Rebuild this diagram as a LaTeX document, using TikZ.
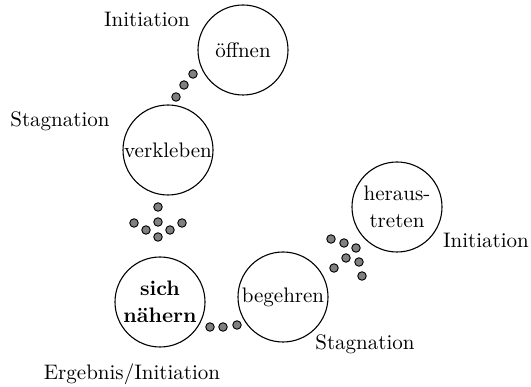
\documentclass[tikz,border=0pt]{standalone}
\usepackage{fontspec}
\setmainfont{lmroman10-regular.otf}[BoldFont=lmroman10-bold.otf]
\begin{document}
\begin{tikzpicture}[x=1pt,y=-1pt,
  phase/.style={circle,draw=black,line width=1.1pt,minimum size=90pt,inner sep=0pt,align=center,
    font=\fontsize{21}{27}\selectfont},
  lbl/.style={anchor=base,inner sep=0pt,font=\fontsize{21}{24}\selectfont},
  dot/.style={circle,draw=black,line width=0.9pt,fill=black!50,minimum size=8.5pt,inner sep=0pt}]
\useasboundingbox (0,0) rectangle (531,387);
% circles
\node[phase] (oeffnen) at (243,50) {öffnen};
\node[phase] (verkleben) at (168,150) {verkleben};
\node[phase] (naehern) at (160,302) {\bfseries sich\\\bfseries nähern};
\node[phase] (begehren) at (283,297) {begehren};
\node[phase] (heraus) at (397,207) {heraus-\\treten};
% labels
\node[lbl] (l1) at (147,27) {Initiation};
\node[lbl] (l2) at (60,127) {Stagnation};
\node[lbl] (l3) at (486,248) {Initiation};
\node[lbl] (l4) at (365,350) {Stagnation};
\node[lbl] (l5) at (132,380) {Ergebnis/Initiation};
% dots
\foreach \n/\x/\y in {a1/193/74, a2/184/85, a3/176/97,
  b1/158/207, b2/134/223, b3/146/230, b4/158/222, b5/170/230, b6/182/223, b7/158/237,
  c1/210/327, c2/223/327, c3/237/325,
  d1/331/239, d2/344/243, d3/356/248, d4/346/258, d5/359/262, d6/334/268, d7/362/276}
  \node[dot] (\n) at (\x,\y) {};
\end{tikzpicture}
\end{document}
